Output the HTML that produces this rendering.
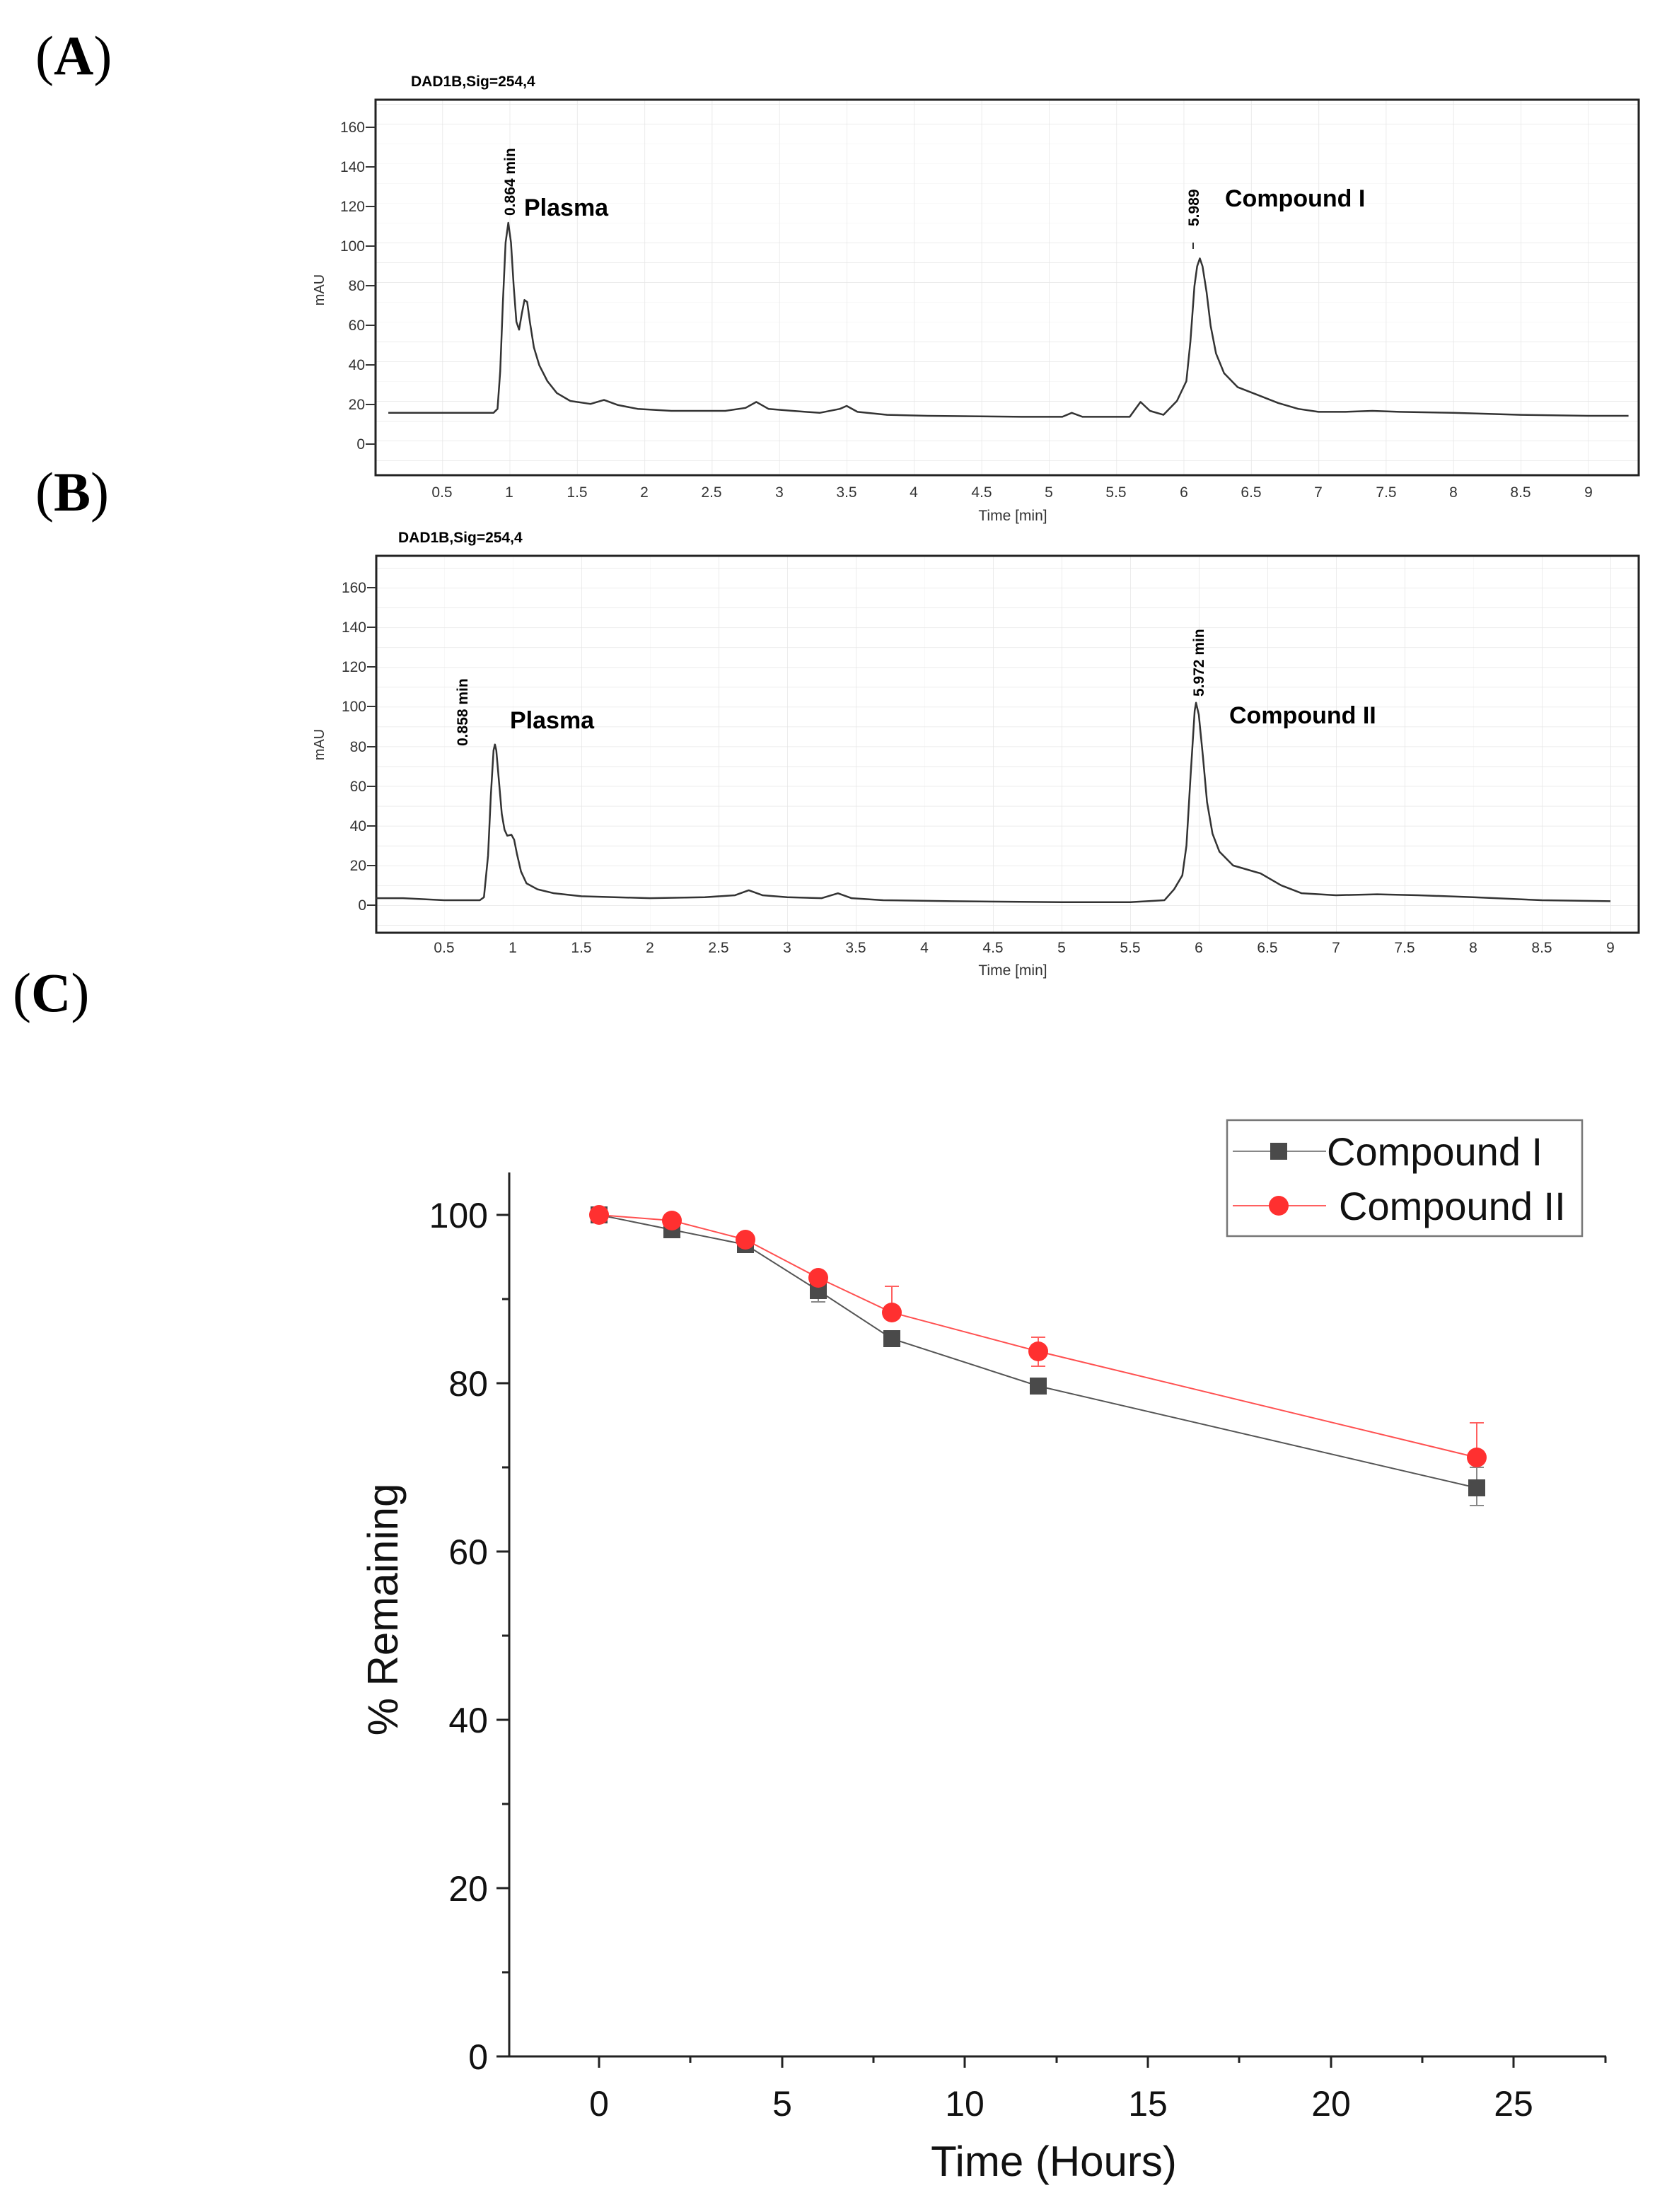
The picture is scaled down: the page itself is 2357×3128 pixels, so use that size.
<!DOCTYPE html>
<html><head><meta charset="utf-8"><style>
html,body{margin:0;padding:0;background:#fff}
svg{display:block}
</style></head><body>
<svg width="2357" height="3128" viewBox="0 0 2357 3128" xmlns="http://www.w3.org/2000/svg" font-family="Liberation Sans, sans-serif">
<defs>
<pattern id="gA" patternUnits="userSpaceOnUse" x="530" y="623" width="95.3" height="28">
<path d="M0 0V28M0 0H95.3" stroke="#e6e6e6" stroke-width="1.5" fill="none"/></pattern>
<pattern id="gB" patternUnits="userSpaceOnUse" x="531" y="1280" width="97" height="28.06">
<path d="M0 0V28.06M0 0H97" stroke="#e6e6e6" stroke-width="1.5" fill="none"/></pattern>
</defs>
<rect width="2357" height="3128" fill="#fff"/>
<g font-family="Liberation Serif, serif" font-size="78">
<text x="50" y="105">(<tspan font-weight="bold">A</tspan>)</text>
<text x="50" y="722">(<tspan font-weight="bold">B</tspan>)</text>
<text x="18" y="1430">(<tspan font-weight="bold">C</tspan>)</text>
</g>

<!-- Panel A -->
<text x="581" y="122" font-size="21" font-weight="bold">DAD1B,Sig=254,4</text>
<rect x="531" y="141" width="1786" height="531" fill="url(#gA)"/>
<rect x="531" y="141" width="1786" height="531" fill="none" stroke="#222" stroke-width="3"/>
<g font-size="21" fill="#333" text-anchor="end">
<text x="516" y="187">160</text><text x="516" y="243">140</text><text x="516" y="299">120</text><text x="516" y="355">100</text>
<text x="516" y="411">80</text><text x="516" y="467">60</text><text x="516" y="523">40</text><text x="516" y="579">20</text><text x="516" y="635">0</text>
</g>
<g stroke="#333" stroke-width="2">
<path d="M517 180H531M517 236H531M517 292H531M517 348H531M517 404H531M517 460H531M517 516H531M517 572H531M517 628H531"/>
</g>
<text transform="translate(458,410) rotate(-90)" font-size="20" fill="#333" text-anchor="middle">mAU</text>
<g font-size="21" fill="#333" text-anchor="middle">
<text x="625" y="703">0.5</text><text x="720" y="703">1</text><text x="816" y="703">1.5</text><text x="911" y="703">2</text><text x="1006" y="703">2.5</text><text x="1102" y="703">3</text><text x="1197" y="703">3.5</text><text x="1292" y="703">4</text><text x="1388" y="703">4.5</text><text x="1483" y="703">5</text><text x="1578" y="703">5.5</text><text x="1674" y="703">6</text><text x="1769" y="703">6.5</text><text x="1864" y="703">7</text><text x="1960" y="703">7.5</text><text x="2055" y="703">8</text><text x="2150" y="703">8.5</text><text x="2246" y="703">9</text>
<text x="1432" y="736">Time [min]</text>
</g>
<g transform="matrix(190.6,0,0,-2.8,530,623)">
<polyline fill="none" stroke="#333" stroke-width="2.5" stroke-linejoin="round" vector-effect="non-scaling-stroke" points="0.1,14 0.88,14 0.91,16 0.93,35 0.95,70 0.97,100 0.99,110 1.01,100 1.03,78 1.05,60 1.07,56 1.09,64 1.11,71 1.13,70 1.15,60 1.18,47 1.22,38 1.28,30 1.35,24 1.45,20 1.6,18.5 1.7,20.5 1.8,18 1.95,16 2.2,15 2.6,15 2.75,16.5 2.83,19.5 2.92,16 3.1,15 3.3,14 3.45,16 3.5,17.5 3.58,14.5 3.8,13 4.1,12.5 4.8,12 5.1,12 5.17,14 5.25,12 5.6,12 5.68,19.5 5.75,15 5.85,13 5.95,20 6.02,30 6.05,50 6.08,78 6.1,88 6.12,92 6.14,88 6.17,75 6.2,58 6.24,44 6.3,34 6.4,27 6.55,23 6.7,19 6.85,16 7.0,14.5 7.2,14.5 7.4,15 7.6,14.5 8.0,14 8.5,13 9.0,12.5 9.3,12.5"/>
</g>
<text transform="translate(728,305) rotate(-90)" font-size="21" font-weight="bold">0.864 min</text>
<text x="741" y="305" font-size="34" font-weight="bold">Plasma</text>
<text transform="translate(1695,320) rotate(-90)" font-size="21" font-weight="bold">5.989</text>
<path d="M1687 343V352" stroke="#333" stroke-width="2"/>
<text x="1732" y="292" font-size="34" font-weight="bold">Compound I</text>

<!-- Panel B -->
<text x="563" y="767" font-size="21" font-weight="bold">DAD1B,Sig=254,4</text>
<rect x="532" y="786" width="1785" height="533" fill="url(#gB)"/>
<rect x="532" y="786" width="1785" height="533" fill="none" stroke="#222" stroke-width="3"/>
<g font-size="21" fill="#333" text-anchor="end">
<text x="518" y="838">160</text><text x="518" y="894">140</text><text x="518" y="950">120</text><text x="518" y="1006">100</text>
<text x="518" y="1063">80</text><text x="518" y="1119">60</text><text x="518" y="1175">40</text><text x="518" y="1231">20</text><text x="518" y="1287">0</text>
</g>
<g stroke="#333" stroke-width="2">
<path d="M519 831H532M519 887H532M519 943H532M519 999H532M519 1056H532M519 1112H532M519 1168H532M519 1224H532M519 1280H532"/>
</g>
<text transform="translate(458,1053) rotate(-90)" font-size="20" fill="#333" text-anchor="middle">mAU</text>
<g font-size="21" fill="#333" text-anchor="middle">
<text x="628" y="1347">0.5</text><text x="725" y="1347">1</text><text x="822" y="1347">1.5</text><text x="919" y="1347">2</text><text x="1016" y="1347">2.5</text><text x="1113" y="1347">3</text><text x="1210" y="1347">3.5</text><text x="1307" y="1347">4</text><text x="1404" y="1347">4.5</text><text x="1501" y="1347">5</text><text x="1598" y="1347">5.5</text><text x="1695" y="1347">6</text><text x="1792" y="1347">6.5</text><text x="1889" y="1347">7</text><text x="1986" y="1347">7.5</text><text x="2083" y="1347">8</text><text x="2180" y="1347">8.5</text><text x="2277" y="1347">9</text>
<text x="1432" y="1379">Time [min]</text>
</g>
<g transform="matrix(194,0,0,-2.806,531,1280)">
<polyline fill="none" stroke="#333" stroke-width="2.5" stroke-linejoin="round" vector-effect="non-scaling-stroke" points="0,3.5 0.2,3.5 0.5,2.5 0.76,2.5 0.79,4 0.82,25 0.84,55 0.86,78 0.87,81 0.88,78 0.9,62 0.92,46 0.94,38 0.96,35 0.99,35.5 1.01,33 1.03,26 1.06,17 1.1,11 1.18,8 1.3,6 1.5,4.5 2.0,3.5 2.4,4 2.62,5 2.72,7.5 2.82,5 3.0,4 3.25,3.5 3.37,6 3.47,3.5 3.7,2.5 4.2,2 5.0,1.5 5.5,1.5 5.75,2.5 5.82,8 5.88,15 5.91,30 5.94,65 5.97,98 5.98,102 6.0,96 6.03,75 6.06,52 6.1,36 6.15,27 6.25,20 6.35,18 6.45,16 6.6,10 6.75,6 7.0,5 7.3,5.5 7.6,5 8.0,4 8.5,2.5 9.0,2"/>
</g>
<text transform="translate(661,1055) rotate(-90)" font-size="21" font-weight="bold">0.858 min</text>
<text x="721" y="1030" font-size="34" font-weight="bold">Plasma</text>
<text transform="translate(1702,985) rotate(-90)" font-size="21" font-weight="bold">5.972 min</text>
<text x="1738" y="1023" font-size="34" font-weight="bold">Compound II</text>

<!-- Panel C -->
<g stroke="#222" stroke-width="3" fill="none">
<path d="M720 1658V2908H2271"/>
<path d="M702 1718H720M702 1956H720M702 2194H720M702 2432H720M702 2670H720M702 2908H720"/>
<path d="M710 1837H720M710 2075H720M710 2313H720M710 2551H720M710 2789H720"/>
<path d="M847 2908V2924M1106 2908V2924M1364 2908V2924M1623 2908V2924M1882 2908V2924M2140 2908V2924"/>
<path d="M976 2908V2917M1235 2908V2917M1494 2908V2917M1752 2908V2917M2011 2908V2917M2270 2908V2917"/>
</g>
<g font-size="50" fill="#111" text-anchor="end">
<text x="690" y="1736">100</text><text x="690" y="1974">80</text><text x="690" y="2212">60</text><text x="690" y="2450">40</text><text x="690" y="2688">20</text><text x="690" y="2926">0</text>
</g>
<g font-size="50" fill="#111" text-anchor="middle">
<text x="847" y="2992">0</text><text x="1106" y="2992">5</text><text x="1364" y="2992">10</text><text x="1623" y="2992">15</text><text x="1882" y="2992">20</text><text x="2140" y="2992">25</text>
<text x="1490" y="3077" font-size="60">Time (Hours)</text>
</g>
<text transform="translate(562,2276) rotate(-90)" font-size="60" fill="#111" text-anchor="middle">% Remaining</text>
<!-- error bars -->
<g stroke="#888" stroke-width="2" fill="none">
<path d="M1157 1825V1841M1147 1841H1167"/>
<path d="M2088 2104V2129M2078 2129H2098M2088 2075V2104M2078 2075H2098"/>
</g>
<g stroke="#ff6060" stroke-width="2" fill="none">
<path d="M1261 1856V1819M1251 1819H1271"/>
<path d="M1468 1891V1932M1458 1891H1478M1458 1932H1478"/>
<path d="M2088 2061V2012M2078 2012H2098"/>
</g>
<!-- series -->
<polyline fill="none" stroke="#555" stroke-width="2" points="847,1718 950,1739 1054,1760 1157,1825 1261,1893 1468,1960 2088,2104"/>
<polyline fill="none" stroke="#ff5050" stroke-width="2" points="847,1718 950,1726 1054,1753 1157,1807 1261,1856 1468,1911 2088,2061"/>
<g fill="#4a4a4a">
<rect x="835" y="1706" width="24" height="24"/><rect x="938" y="1727" width="24" height="24"/><rect x="1042" y="1748" width="24" height="24"/><rect x="1145" y="1813" width="24" height="24"/><rect x="1249" y="1881" width="24" height="24"/><rect x="1456" y="1948" width="24" height="24"/><rect x="2076" y="2092" width="24" height="24"/>
</g>
<g fill="#ff3030">
<circle cx="847" cy="1718" r="14"/><circle cx="950" cy="1726" r="14"/><circle cx="1054" cy="1753" r="14"/><circle cx="1157" cy="1807" r="14"/><circle cx="1261" cy="1856" r="14"/><circle cx="1468" cy="1911" r="14"/><circle cx="2088" cy="2061" r="14"/>
</g>
<!-- legend -->
<rect x="1735" y="1584" width="502" height="164" fill="#fff" stroke="#777" stroke-width="2.5"/>
<path d="M1743 1628H1875" stroke="#888" stroke-width="2"/>
<rect x="1796" y="1616" width="24" height="24" fill="#4a4a4a"/>
<path d="M1743 1705H1875" stroke="#ff6060" stroke-width="2"/>
<circle cx="1808" cy="1705" r="14" fill="#ff3030"/>
<text x="1876" y="1648" font-size="56" fill="#111">Compound I</text>
<text x="1893" y="1725" font-size="56" fill="#111">Compound II</text>
</svg>
</body></html>
